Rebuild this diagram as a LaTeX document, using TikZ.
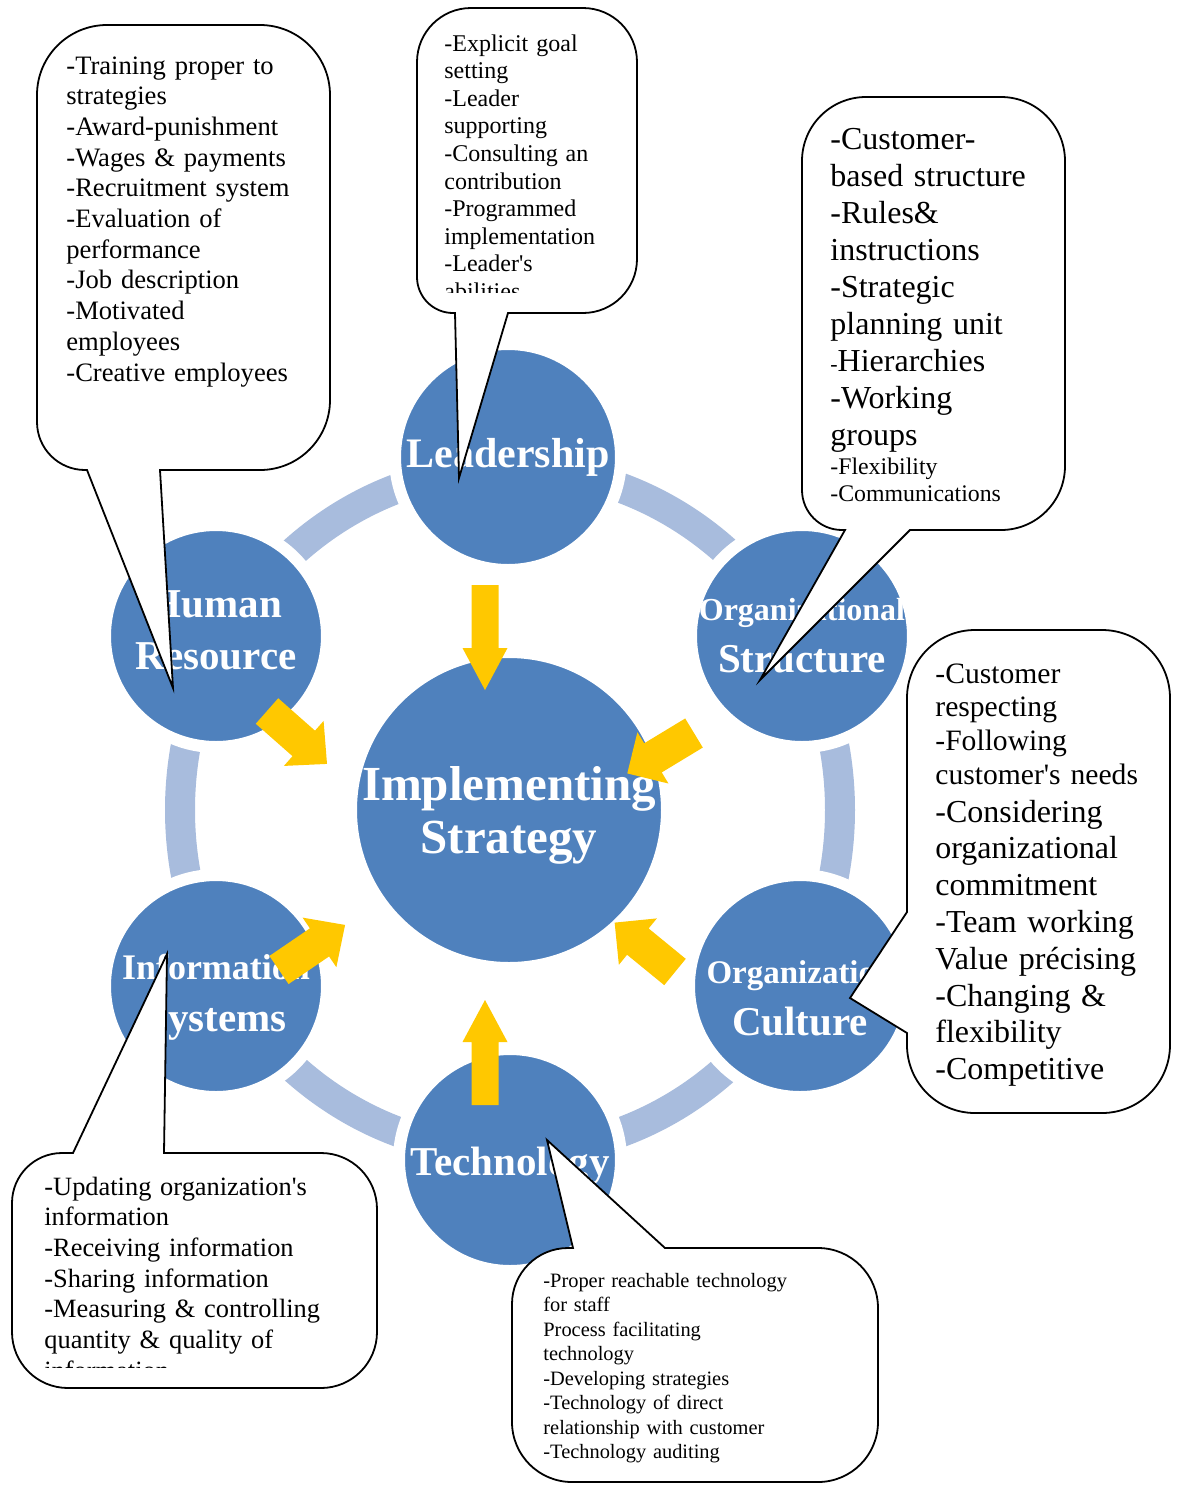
\documentclass[tikz,border=0pt]{standalone}
\usepackage{fontspec}
\setmainfont{Liberation Serif}

\definecolor{circleblue}{RGB}{79,129,189}
\definecolor{ringblue}{RGB}{168,188,221}
\definecolor{arrowgold}{RGB}{255,200,0}

\tikzset{
  topic/.style={circle, fill=circleblue, draw=white, line width=6pt, inner sep=0pt},
  topicname/.style={text=white, font=\bfseries\fontsize{20.5}{26}\selectfont, align=center, inner sep=0pt},
  bubble/.style={draw=black, fill=white, line width=0.9pt},
  note/.style={anchor=base west, inner sep=0pt, align=left, text width=#1},
  pics/goldarrow/.style n args={4}{code={
    \fill[arrowgold] (0,-#2/2) -- (#1-#4,-#2/2) -- (#1-#4,-#3/2) -- (#1,0)
      -- (#1-#4,#3/2) -- (#1-#4,#2/2) -- (0,#2/2) -- cycle;
  }}
}

\begin{document}
\begin{tikzpicture}[x=0.5pt, y=-0.5pt]
\useasboundingbox (0,0) rectangle (1180,1485);

% ring behind the topics
\draw[ringblue, line width=15pt] (510,810) ellipse [x radius=330, y radius=342];

% topics
\node[topic, minimum size=158pt] (strat) at (509,810) {};
\node[topic, minimum size=113pt] (lead) at (508,457) {};
\node[topic, minimum size=111pt] (human) at (216,636) {};
\node[topic, minimum size=111pt] (structure) at (802,636) {};
\node[topic, minimum size=111pt] (culture) at (800,986) {};
\node[topic, minimum size=111pt] (infosys) at (216,986) {};
\node[topic, minimum size=111pt] (tech) at (510,1160) {};

\node[topicname, font=\bfseries\fontsize{24.5}{26.5}\selectfont, yshift=-2.5pt] (stratname) at (strat) {Implementing\\Strategy};
\node[topicname, font=\bfseries\fontsize{21}{26}\selectfont] (leadname) at (lead) {Leadership};
\node[topicname, yshift=3pt] (humanname) at (human) {Human\\Resource};
\node[topicname] (structurename) at (structure) {{\fontsize{16}{26}\selectfont Organizational}\\Structure};
\node[topicname, yshift=-6pt] (culturename) at (culture) {{\fontsize{16.5}{26}\selectfont Organization}\\Culture};
\node[topicname, yshift=-5.5pt] (infosysname) at (infosys) {{\fontsize{18}{26}\selectfont Information}\\Systems};
\node[topicname, yshift=-3pt] (techname) at (tech) {Technology};

% arrows into the centre
\pic[rotate=-90] at (485,585) {goldarrow={105}{27}{45}{42}};
\pic[rotate=90] at (485,1105) {goldarrow={105}{27}{45}{42}};
\pic[rotate=-41.4] at (267,711) {goldarrow={80}{34}{60}{31}};
\pic[rotate=-148.8] at (694,733) {goldarrow={78}{34}{60}{30}};
\pic[rotate=140.7] at (675,972) {goldarrow={78}{34}{60}{30}};
\pic[rotate=34.3] at (279,970) {goldarrow={80}{34}{60}{31}};

% callouts
\draw[bubble] (173,688) -- (160,470) [rounded corners=35pt] -- (330,470) -- (330,25) -- (37,25) [rounded corners=24pt] -- (37,470) [sharp corners] -- (87,470) -- cycle;
\node[note=150pt, font=\fontsize{13.3}{15.35}\selectfont] (hrtext) at (66,74)
  {-Training proper to\\strategies\\-Award-punishment\\-Wages \& payments\\-Recruitment system\\-Evaluation of\\performance\\-Job description\\-Motivated\\employees\\-Creative employees};

\draw[bubble] (459,478) -- (508,313) [rounded corners=27pt] -- (637,313) -- (637,8) -- (417,8) [rounded corners=18pt] -- (417,313) [sharp corners] -- (455,313) -- cycle;
\begin{scope}
\clip (417,8) rectangle (637,292);
\node[note=100pt, font=\fontsize{12}{13.8}\selectfont] (leadtext) at (444,51)
  {-Explicit goal\\setting\\-Leader\\supporting\\-Consulting an\\contribution\\-Programmed\\implementation\\-Leader\textquotesingle s\\abilities};
\end{scope}

\draw[bubble] (760,680) -- (910,530) [rounded corners=32pt] -- (1065,530) -- (1065,97) -- (802,97) [rounded corners=20pt] -- (802,530) [sharp corners] -- (845,530) -- cycle;
\node[note=120pt, font=\fontsize{16}{18.5}\selectfont] (structtext) at (830,149)
  {-Customer-\\based structure\\-Rules\&\\instructions\\-Strategic\\planning unit\\{\fontsize{11}{13}\selectfont -}Hierarchies\\-Working\\groups};
\node[note=120pt, font=\fontsize{11.9}{13.5}\selectfont] (structsmall) at (830,474)
  {-Flexibility\\-Communications};

\draw[bubble] (850,998) -- (907,1033) [rounded corners=34pt] -- (907,1113) -- (1170,1113) -- (1170,630) -- (907,630) [sharp corners] -- (907,912) -- cycle;
\node[note=120pt, font=\fontsize{14.8}{16.9}\selectfont] (culttext) at (935,683)
  {-Customer\\respecting\\-Following\\customer\textquotesingle s needs};
\node[note=120pt, font=\fontsize{16}{18.4}\selectfont] (cultmore) at (935,822)
  {-Considering\\organizational\\commitment\\-Team working\\Value précising\\-Changing \&\\flexibility\\-Competitive};

\draw[bubble] (167,954) -- (164,1153) [rounded corners=28pt] -- (377,1153) -- (377,1388) -- (12,1388) [rounded corners=25pt] -- (12,1153) [sharp corners] -- (73,1153) -- cycle;
\begin{scope}
\clip (12,1153) rectangle (377,1367);
\node[note=170pt, font=\fontsize{13.2}{15.35}\selectfont] (infotext) at (44,1195)
  {-Updating organization\textquotesingle s\\information\\-Receiving information\\-Sharing information\\-Measuring \& controlling\\quantity \& quality of\\information};
\end{scope}

\draw[bubble] (547,1140) -- (665,1248) [rounded corners=30pt] -- (878,1248) -- (878,1482) -- (512,1482) [rounded corners=28pt] -- (512,1248) [sharp corners] -- (573,1248) -- cycle;
\node[note=170pt, font=\fontsize{10.2}{12.25}\selectfont] (techtext) at (543,1287)
  {-Proper reachable technology\\for staff\\Process facilitating\\technology\\-Developing strategies\\-Technology of direct\\relationship with customer\\-Technology auditing};
\end{tikzpicture}
\end{document}
